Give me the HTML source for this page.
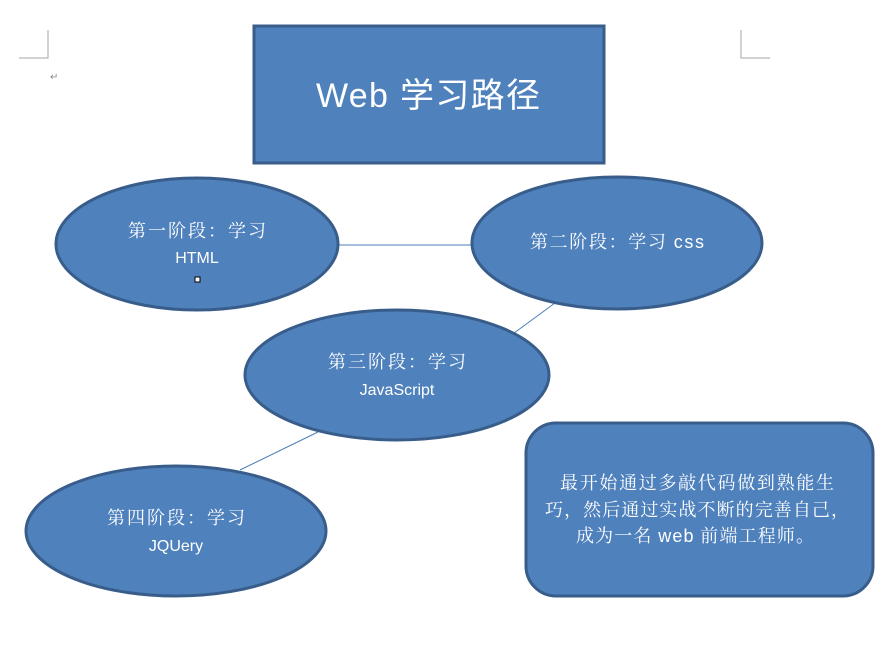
<!DOCTYPE html>
<html><head><meta charset="utf-8"><style>
html,body{margin:0;padding:0;background:#fff;width:888px;height:645px;overflow:hidden}
svg{display:block}
text{fill:#fff;font-family:"Liberation Serif","Noto Serif CJK SC",serif}
.s{font-family:"Liberation Sans","Noto Sans CJK SC",sans-serif}
</style></head><body>
<svg width="888" height="645" viewBox="0 0 888 645">
<g stroke="#a6a6a6" stroke-width="1" fill="none">
<polyline points="48,30 48,58 19,58"/>
<polyline points="741,30 741,58 770,58"/>
</g>
<text x="50" y="80" style="fill:#888;font-size:10px">↵</text>
<g stroke="#4a7ebb" stroke-width="1">
<line x1="339" y1="245" x2="472" y2="245"/>
<line x1="555" y1="303" x2="510" y2="336"/>
<line x1="318" y1="432" x2="240" y2="470"/>
</g>
<g fill="#4f81bd" stroke="#385d8a" stroke-width="3">
<rect x="254" y="26" width="350" height="137"/>
<ellipse cx="197" cy="244" rx="141" ry="66"/>
<ellipse cx="617" cy="243" rx="145" ry="66"/>
<ellipse cx="397" cy="375" rx="152" ry="65"/>
<ellipse cx="176" cy="531" rx="150" ry="65"/>
<rect x="526" y="423" width="347" height="173" rx="30" ry="30"/>
</g>
<text class="s" x="428" y="107" text-anchor="middle" style="font-size:34px" textLength="224">Web 学习路径</text>
<text x="197" y="237" text-anchor="middle" style="font-size:18px" textLength="138">第一阶段：学习</text>
<text class="s" x="197" y="263" text-anchor="middle" style="font-size:16px">HTML</text>
<rect x="195" y="277" width="5" height="5" fill="#fff" stroke="#000" stroke-width="1"/>
<text x="617" y="248" text-anchor="middle" style="font-size:18px" textLength="174">第二阶段：学习 <tspan class="s">css</tspan></text>
<text x="397" y="368" text-anchor="middle" style="font-size:18px" textLength="138">第三阶段：学习</text>
<text class="s" x="397" y="395" text-anchor="middle" style="font-size:16px">JavaScript</text>
<text x="176" y="524" text-anchor="middle" style="font-size:18px" textLength="138">第四阶段：学习</text>
<text class="s" x="176" y="551" text-anchor="middle" style="font-size:16px">JQUery</text>
<text x="697" y="489" text-anchor="middle" style="font-size:18px" textLength="274">最开始通过多敲代码做到熟能生</text>
<text x="697" y="516" text-anchor="middle" style="font-size:18px" textLength="304">巧，然后通过实战不断的完善自己，</text>
<text x="695" y="542" text-anchor="middle" style="font-size:18px" textLength="238">成为一名 <tspan class="s">web</tspan> 前端工程师。</text>
</svg>
</body></html>
